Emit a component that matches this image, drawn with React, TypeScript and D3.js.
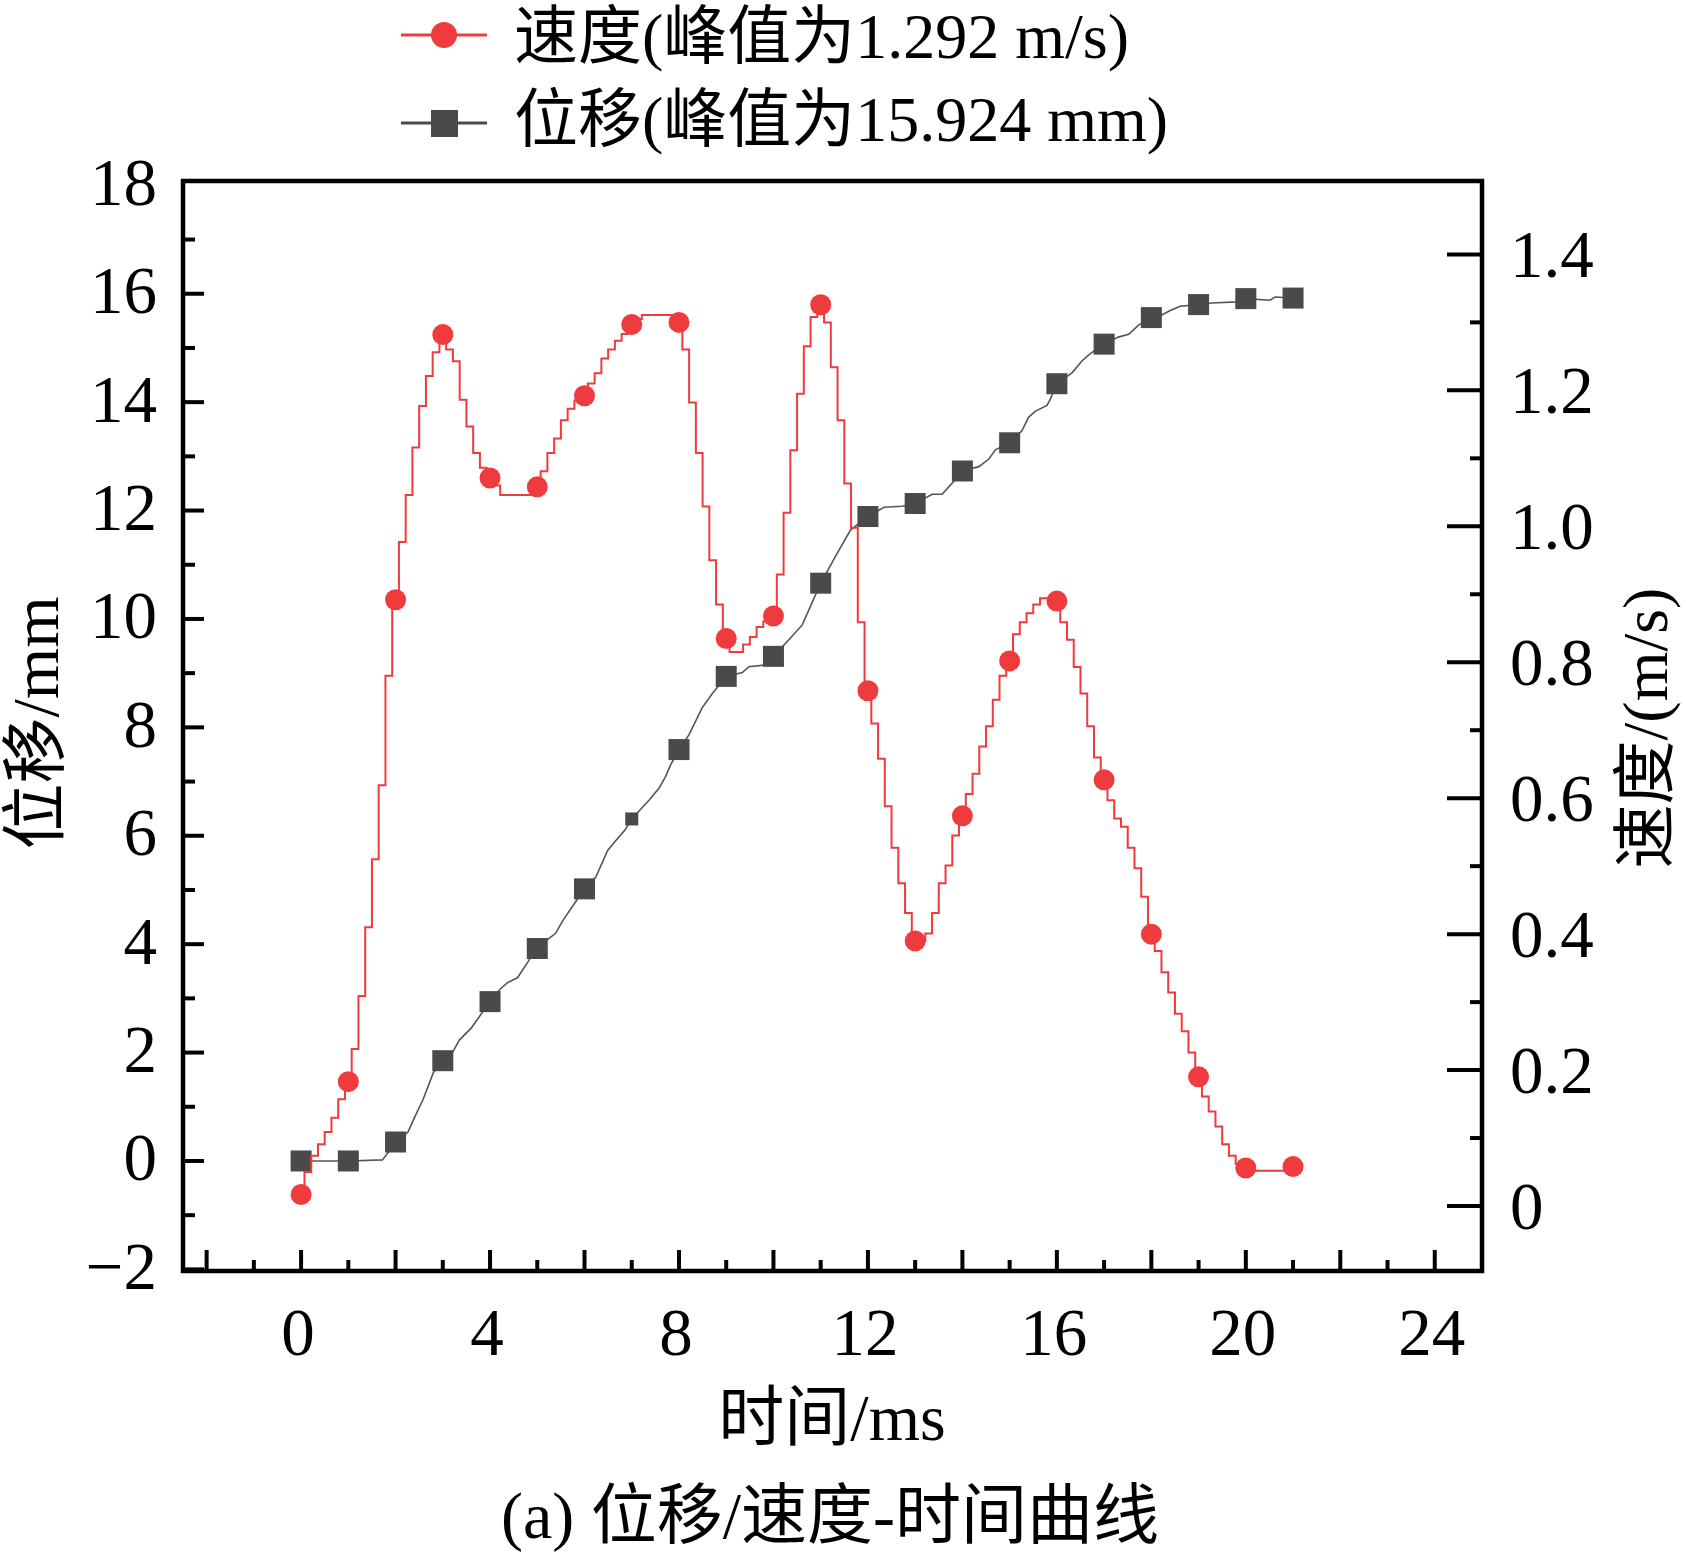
import React from "react";
import * as d3 from "d3";

const W = 1686;
const H = 1554;
const FRAME = { left: 183, right: 1482, top: 181, bottom: 1271 };
const FONT = '"Liberation Serif", "Noto Sans CJK SC", serif';
const FS = 67;

const RED = "#EF3B3E";
const GREY = "#4a4a4a";

// axis ranges
const timeDomain = [-2.5, 25];
const dispDomain = [-2.03, 18.08];
const velDomain = [-0.0956, 1.508];

const timeLabels = [0, 4, 8, 12, 16, 20, 24];
const dispLabels = [-2, 0, 2, 4, 6, 8, 10, 12, 14, 16, 18];
const velLabels = [0, 0.2, 0.4, 0.6, 0.8, 1.0, 1.2, 1.4];

// velocity (m/s), one row per ms, sampled every 1/7 ms
const VEL_DT = 1 / 7;
const velocity = [
  0.017, 0.05, 0.074, 0.091, 0.109, 0.13, 0.157,
  0.183, 0.231, 0.309, 0.41, 0.51, 0.619, 0.78,
  0.892, 0.977, 1.046, 1.116, 1.177, 1.221, 1.256,
  1.282, 1.26, 1.243, 1.186, 1.147, 1.108, 1.086,
  1.071, 1.06, 1.046, 1.046, 1.046, 1.046, 1.046,
  1.058, 1.081, 1.108, 1.129, 1.156, 1.173, 1.185,
  1.192, 1.21, 1.225, 1.247, 1.26, 1.273, 1.283,
  1.297, 1.305, 1.311, 1.311, 1.311, 1.311, 1.311,
  1.3, 1.26, 1.182, 1.108, 1.029, 0.95, 0.885,
  0.835, 0.815, 0.815, 0.826, 0.837, 0.852, 0.86,
  0.868, 0.929, 1.02, 1.112, 1.195, 1.265, 1.308,
  1.326, 1.3, 1.234, 1.156, 1.063, 0.998, 0.859,
  0.758, 0.71, 0.658, 0.588, 0.527, 0.475, 0.431,
  0.39, 0.39, 0.401, 0.431, 0.475, 0.501, 0.545,
  0.574, 0.606, 0.636, 0.676, 0.706, 0.745, 0.78,
  0.802, 0.841, 0.859, 0.872, 0.885, 0.894, 0.894,
  0.89, 0.859, 0.833, 0.793, 0.754, 0.706, 0.66,
  0.627, 0.597, 0.57, 0.558, 0.527, 0.497, 0.455,
  0.4, 0.375, 0.344, 0.314, 0.283, 0.257, 0.226,
  0.19, 0.161, 0.139, 0.117, 0.091, 0.074, 0.062,
  0.056, 0.052, 0.052, 0.052, 0.052, 0.052, 0.052,
  0.058,
];

// displacement (mm): [time ms, value]; markers sit on whole ms
const displacement: [number, number][] = [
  [0, 0], [1, 0], [1.72, 0.02], [1.84, 0.15], [2, 0.35], [2.26, 0.53],
  [2.4, 0.8], [2.58, 1.13], [2.8, 1.63], [3, 1.85], [3.21, 2.01],
  [3.35, 2.23], [3.6, 2.45], [4, 2.94], [4.2, 3.16], [4.37, 3.29],
  [4.58, 3.38], [4.83, 3.71], [5, 3.92], [5.22, 4.09], [5.39, 4.2],
  [5.53, 4.42], [5.74, 4.69], [6, 5.02], [6.24, 5.24], [6.49, 5.73],
  [6.7, 5.95], [6.86, 6.11], [7, 6.31], [7.16, 6.46], [7.37, 6.66],
  [7.58, 6.88], [7.72, 7.1], [7.83, 7.32], [8, 7.59], [8.21, 7.86],
  [8.49, 8.36], [8.71, 8.63], [9, 8.94], [9.34, 9.01], [9.48, 9.12],
  [9.83, 9.15], [10, 9.31], [10.33, 9.62], [10.61, 9.89], [11, 10.66],
  [11.31, 11.15], [11.63, 11.64], [12, 11.89], [12.34, 12.06],
  [12.72, 12.08], [13, 12.13], [13.36, 12.3], [13.57, 12.3],
  [13.85, 12.57], [14, 12.73], [14.35, 12.81], [14.56, 12.95],
  [14.7, 13.12], [15, 13.25], [15.26, 13.47], [15.4, 13.72],
  [15.54, 13.83], [15.79, 13.94], [15.86, 14.05], [16, 14.34],
  [16.32, 14.54], [16.53, 14.76], [16.7, 14.89], [17, 15.07],
  [17.3, 15.2], [17.52, 15.25], [17.73, 15.42], [18, 15.56],
  [18.22, 15.61], [18.4, 15.69], [18.61, 15.77], [19, 15.8],
  [19.28, 15.83], [19.81, 15.85], [20, 15.91], [20.51, 15.88],
  [20.62, 15.94], [21, 15.92],
];

const SMALL_SQUARE_T = 7;

const App = () => {
  const x = d3.scaleLinear().domain(timeDomain).range([FRAME.left, FRAME.right]);
  const yL = d3.scaleLinear().domain(dispDomain).range([FRAME.bottom, FRAME.top]);
  const yR = d3.scaleLinear().domain(velDomain).range([FRAME.bottom, FRAME.top]);

  const velPts = velocity.map((v, i) => [i * VEL_DT, v] as [number, number]);
  const velLine = d3
    .line<[number, number]>()
    .x((d) => x(d[0]))
    .y((d) => yR(d[1]))
    .curve(d3.curveStep);
  const dispLine = d3
    .line<[number, number]>()
    .x((d) => x(d[0]))
    .y((d) => yL(d[1]));

  const velMarkers = velPts.filter((_, i) => i % 7 === 0);
  const dispMarkers = displacement.filter((d) => Number.isInteger(d[0]));

  const fmtNeg = (v: number) => (v < 0 ? "\u2212" + Math.abs(v) : String(v));

  // ticks (the 18 tick merges with the top border, so skip it)
  const xTicks = d3.range(-2, 25, 1);
  const lTicks = d3.range(-2, 18, 1);
  const rTicks = d3.range(0, 15, 1).map((i) => i / 10);

  return (
    <svg
      width={W}
      height={H}
      style={{ position: "absolute", left: 0, top: 0, background: "#fff" }}
      fontFamily={FONT}
    >
      {/* legend */}
      <g>
        <line x1={401} x2={487} y1={35} y2={35} stroke={RED} strokeWidth={3} />
        <circle cx={444} cy={35} r={13} fill={RED} />
        <text x={514} y={58} fontSize={64}>
          速度(峰值为1.292 m/s)
        </text>
        <line x1={401} x2={487} y1={123} y2={123} stroke={GREY} strokeWidth={3} />
        <rect x={431} y={110} width={27} height={27} fill={GREY} />
        <text x={514} y={141} fontSize={64}>
          位移(峰值为15.924 mm)
        </text>
      </g>

      {/* displacement series */}
      <path d={dispLine(displacement) ?? ""} fill="none" stroke="#555" strokeWidth={1.6} />
      {dispMarkers.map((d) => {
        const s = d[0] === SMALL_SQUARE_T ? 13 : 21;
        return (
          <rect
            key={`s${d[0]}`}
            x={x(d[0]) - s / 2}
            y={yL(d[1]) - s / 2}
            width={s}
            height={s}
            fill={GREY}
          />
        );
      })}

      {/* velocity series */}
      <path d={velLine(velPts) ?? ""} fill="none" stroke={RED} strokeWidth={2} />
      {velMarkers.map((d) => (
        <circle key={`c${d[0]}`} cx={x(d[0])} cy={yR(d[1])} r={10.5} fill={RED} />
      ))}

      {/* frame */}
      <rect
        x={FRAME.left}
        y={FRAME.top}
        width={FRAME.right - FRAME.left}
        height={FRAME.bottom - FRAME.top}
        fill="none"
        stroke="#000"
        strokeWidth={4.5}
      />

      {/* bottom ticks */}
      {xTicks.map((t) => {
        const major = t % 2 === 0;
        return (
          <line
            key={`xt${t}`}
            x1={x(t)}
            x2={x(t)}
            y1={FRAME.bottom}
            y2={FRAME.bottom - (major ? 21 : 11)}
            stroke="#000"
            strokeWidth={4}
          />
        );
      })}
      {timeLabels.map((t) => (
        <text key={`xl${t}`} x={x(t) - 3} y={1355} fontSize={FS} textAnchor="middle">
          {t}
        </text>
      ))}

      {/* left ticks */}
      {lTicks.map((v) => {
        const major = v % 2 === 0;
        return (
          <line
            key={`lt${v}`}
            x1={FRAME.left}
            x2={FRAME.left + (major ? 21 : 12)}
            y1={yL(v)}
            y2={yL(v)}
            stroke="#000"
            strokeWidth={4}
          />
        );
      })}
      {dispLabels.map((v) => (
        <text key={`ll${v}`} x={157} y={yL(v) + 19.5} fontSize={FS} textAnchor="end">
          {fmtNeg(v)}
        </text>
      ))}

      {/* right ticks */}
      {rTicks.map((v, i) => {
        const major = i % 2 === 0;
        return (
          <line
            key={`rt${i}`}
            x1={FRAME.right}
            x2={FRAME.right - (major ? 35 : 12)}
            y1={yR(v)}
            y2={yR(v)}
            stroke="#000"
            strokeWidth={4}
          />
        );
      })}
      {velLabels.map((v) => (
        <text key={`rl${v}`} x={1510} y={yR(v) + 22.5} fontSize={FS}>
          {v === 0 ? "0" : v.toFixed(1)}
        </text>
      ))}

      {/* axis titles */}
      <text x={832} y={1440} fontSize={66} textAnchor="middle">
        时间/ms
      </text>
      <text
        transform="translate(58,723) rotate(-90)"
        fontSize={66}
        textAnchor="middle"
      >
        位移/mm
      </text>
      <text
        transform="translate(1667,728) rotate(-90)"
        fontSize={64}
        textAnchor="middle"
      >
        速度/(m/s)
      </text>

      {/* caption */}
      <text x={830} y={1538} fontSize={66} textAnchor="middle">
        (a) 位移/速度-时间曲线
      </text>
    </svg>
  );
};

export default App;
